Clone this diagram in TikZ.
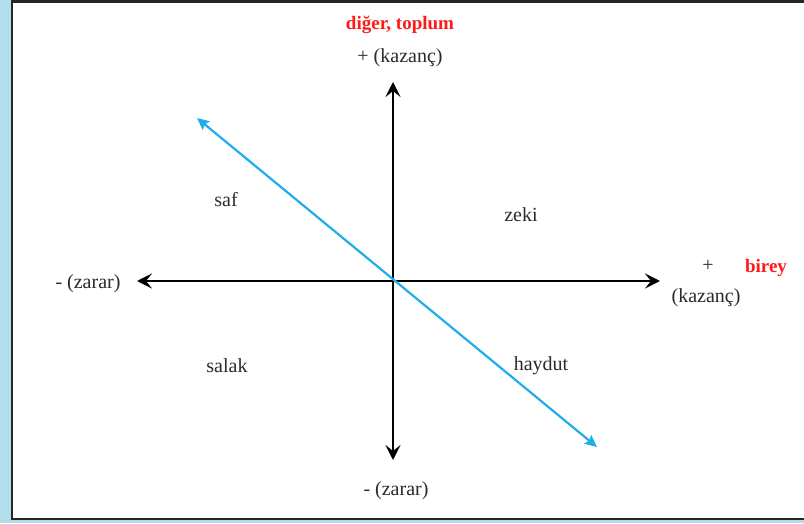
\documentclass[tikz,border=0pt]{standalone}
\usepackage{fontspec}
\setmainfont{Liberation Serif}
\usepackage{xcolor}
\usepackage{tikz}
\usetikzlibrary{arrows.meta,positioning}
\definecolor{frameblue}{HTML}{B3DCEC}
\definecolor{lineblue}{HTML}{1FAEEA}
\definecolor{labelred}{HTML}{FF1A1A}
\definecolor{textgray}{HTML}{2A2A2A}
\tikzset{
  lbl/.style={inner sep=1pt, text=textgray, font=\fontsize{20}{22}\selectfont},
  axislbl/.style={lbl},
  redlbl/.style={inner sep=1pt, text=labelred, font=\bfseries\fontsize{19}{22}\selectfont},
  axis/.style={{Stealth[length=15pt,width=15pt,inset=6pt]}-{Stealth[length=15pt,width=15pt,inset=6pt]}, line width=2.8pt, black},
  diag/.style={{Stealth[length=12pt,width=11pt,inset=2pt]}-{Stealth[length=12pt,width=11pt,inset=2pt]}, line width=2.2pt, lineblue}
}

\begin{document}
\begin{tikzpicture}[x=1pt,y=1pt]
  \useasboundingbox (0,0) rectangle (804,523);
  % frame
  \fill[frameblue] (0,0) rectangle (804,523);
  \draw[fill=white, line width=2.2pt, draw=black!85] (12,4) rectangle (812,521.5);

  % axis ends
  \coordinate (O) at (393,242);
  \coordinate (top) at (393,441);
  \coordinate (bot) at (393,63);
  \coordinate (left) at (137,242);
  \coordinate (right) at (660,242);
  \coordinate (ul) at (197,405);
  \coordinate (lr) at (597,76);

  \draw[axis] (bot) -- (top);
  \draw[axis] (left) -- (right);
  \draw[diag] (ul) -- (lr);

  % labels
  \node[redlbl] (other) at (400,498) {diğer, toplum};
  \node[axislbl] (gainY) at (400,465) {+ (kazanç)};
  \node[axislbl] (lossY) at (396,32) {- (zarar)};
  \node[axislbl] (lossX) at (88,239) {- (zarar)};
  \node[axislbl] (plusX) at (708,257) {+};
  \node[axislbl] (gainX) at (706,225) {(kazanç)};
  \node[redlbl] (self) at (766,255) {birey};

  \node[lbl] (saf) at (226,323) {saf};
  \node[lbl] (zeki) at (521,308) {zeki};
  \node[lbl] (salak) at (227,157) {salak};
  \node[lbl] (haydut) at (541,157) {haydut};
\end{tikzpicture}
\end{document}
